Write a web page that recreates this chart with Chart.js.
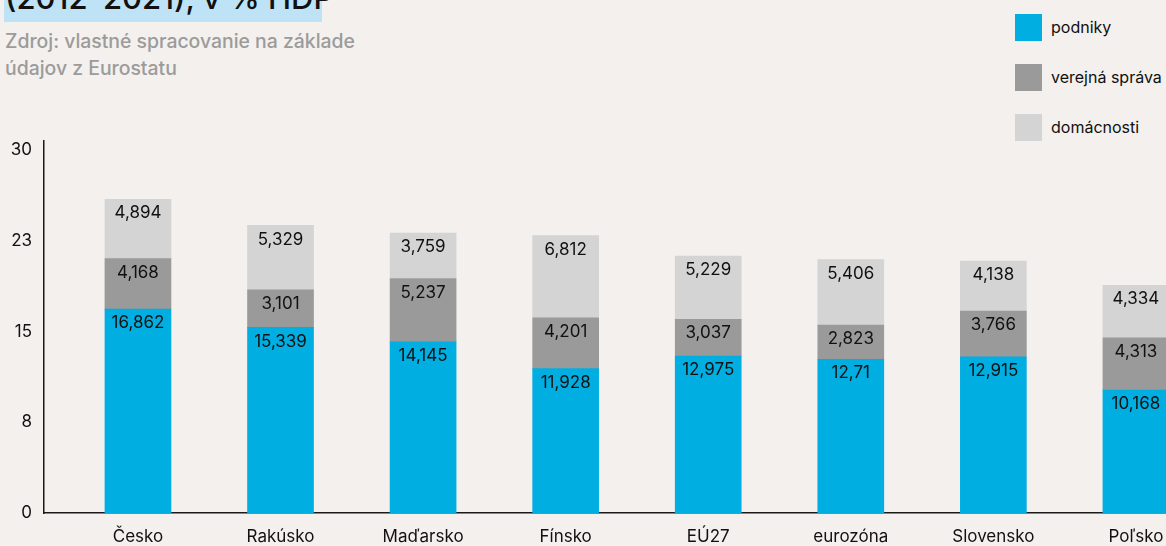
<!DOCTYPE html>
<html lang="sk">
<head>
<meta charset="utf-8">
<title>Výdavky na výskum a vývoj (2012–2021), v % HDP</title>
<script src="https://cdn.jsdelivr.net/npm/chart.js@4/dist/chart.umd.min.js"></script>
<style>
  html, body { margin: 0; padding: 0; background: #f3f0ed; overflow: hidden; }
  body { width: 1166px; height: 546px; position: relative; font-family: Inter, "Noto Sans", sans-serif; }
  #wrap { position: absolute; left: 0; top: 0; width: 1166px; height: 546px; }
  .title {
    position: absolute; left: 4px; top: -20px; width: 317px; height: 36px; padding-bottom: 6px;
    background: #bfe3f6; color: #111; font-size: 31px; line-height: 36px; white-space: nowrap;
    padding-left: 1px; box-sizing: content-box; font-weight: 500;
  }
  .source {
    position: absolute; left: 5px; top: 28px; color: #9b9b9b; font-size: 19.4px; line-height: 27px; font-weight: 500;
  }
  .legend { position: absolute; left: 1015px; top: 14px; }
  .legend .item { position: absolute; left: 0; width: 160px; height: 27px; }
  .legend .box { position: absolute; left: 0; top: 0; width: 27px; height: 27px; }
  .legend .lbl { position: absolute; left: 36px; top: 0; line-height: 27px; font-size: 16px; color: #111; white-space: nowrap; }
</style>
</head>
<body>
<div class="title">(2012–2021), v % HDP</div>
<div class="source">Zdroj: vlastné spracovanie na základe<br>údajov z Eurostatu</div>
<div class="legend" id="legend"></div>
<div id="wrap"><canvas id="chart" width="1166" height="546"></canvas></div>
<script>
// Krajiny a podiely výdavkov podľa sektora (v % HDP)
const categories = ['Česko', 'Rakúsko', 'Maďarsko', 'Fínsko', 'EÚ27', 'eurozóna', 'Slovensko', 'Poľsko'];
const podniky = [16.862, 15.339, 14.145, 11.928, 12.975, 12.71, 12.915, 10.168];
const verejnaSprava = [4.168, 3.101, 5.237, 4.201, 3.037, 2.823, 3.766, 4.313];
const domacnosti = [4.894, 5.329, 3.759, 6.812, 5.229, 5.406, 4.138, 4.334];
const seriesNames = ['podniky', 'verejná správa', 'domácnosti'];
const yTicks = [0, 7.5, 15, 22.5, 30];

const colors = ['#00aee2', '#9a9a9a', '#d4d4d4'];
const FONT = 'Inter, "Noto Sans", sans-serif';

// legenda
const legendEl = document.getElementById('legend');
seriesNames.forEach((name, i) => {
  const item = document.createElement('div');
  item.className = 'item';
  item.style.top = (i * 50) + 'px';
  item.innerHTML = '<div class="box" style="background:' + colors[i] + '"></div><div class="lbl"></div>';
  item.querySelector('.lbl').textContent = name;
  legendEl.appendChild(item);
});

const toPoints = arr => arr.map((v, i) => ({ x: i, y: v }));

// hodnoty vpísané do segmentov stĺpcov
const valueLabels = {
  id: 'valueLabels',
  afterDatasetsDraw(chart) {
    const ctx = chart.ctx;
    ctx.save();
    ctx.font = '17px ' + FONT;
    ctx.fillStyle = '#111';
    ctx.textAlign = 'center';
    ctx.textBaseline = 'middle';
    chart.data.datasets.forEach((ds, di) => {
      const meta = chart.getDatasetMeta(di);
      meta.data.forEach((el, i) => {
        const v = ds.data[i].y;
        ctx.fillText(String(v).replace('.', ','), el.x, el.y + 14);
      });
    });
    ctx.restore();
  }
};

new Chart(document.getElementById('chart'), {
  type: 'bar',
  data: {
    datasets: [
      { label: seriesNames[0], data: toPoints(podniky), backgroundColor: colors[0] },
      { label: seriesNames[1], data: toPoints(verejnaSprava), backgroundColor: colors[1] },
      { label: seriesNames[2], data: toPoints(domacnosti), backgroundColor: colors[2] }
    ]
  },
  options: {
    responsive: false,
    animation: false,
    devicePixelRatio: 1,
    layout: { padding: { top: 141, left: 0, right: 0, bottom: 0 } },
    datasets: { bar: { barThickness: 66, borderWidth: 0 } },
    plugins: { legend: { display: false }, tooltip: { enabled: false } },
    scales: {
      x: {
        type: 'linear',
        stacked: true,
        offset: false,
        min: -0.659,
        max: 7.211,
        afterBuildTicks: s => { s.ticks = categories.map((_, i) => ({ value: i })); },
        afterFit: s => { s.height = 33; s.paddingLeft = 0; s.paddingRight = 0; },
        grid: { display: false, drawTicks: false, offset: false },
        border: { display: true, color: '#1a1a1a', width: 1.5 },
        ticks: {
          autoSkip: false, maxRotation: 0, padding: 14,
          color: '#111', font: { family: FONT, size: 17 },
          callback: v => categories[v]
        }
      },
      y: {
        stacked: true,
        min: 0,
        max: 30.75,
        afterBuildTicks: s => { s.ticks = yTicks.map(v => ({ value: v })); },
        afterFit: s => { s.width = 44; s.paddingTop = 0; s.paddingBottom = 0; },
        grid: { display: false, drawTicks: false },
        border: { display: true, color: '#1a1a1a', width: 1.5 },
        ticks: {
          padding: 12, color: '#111', font: { family: FONT, size: 17 },
          callback: v => String(Math.round(v))
        }
      }
    }
  },
  plugins: [valueLabels]
});
</script>
</body>
</html>
